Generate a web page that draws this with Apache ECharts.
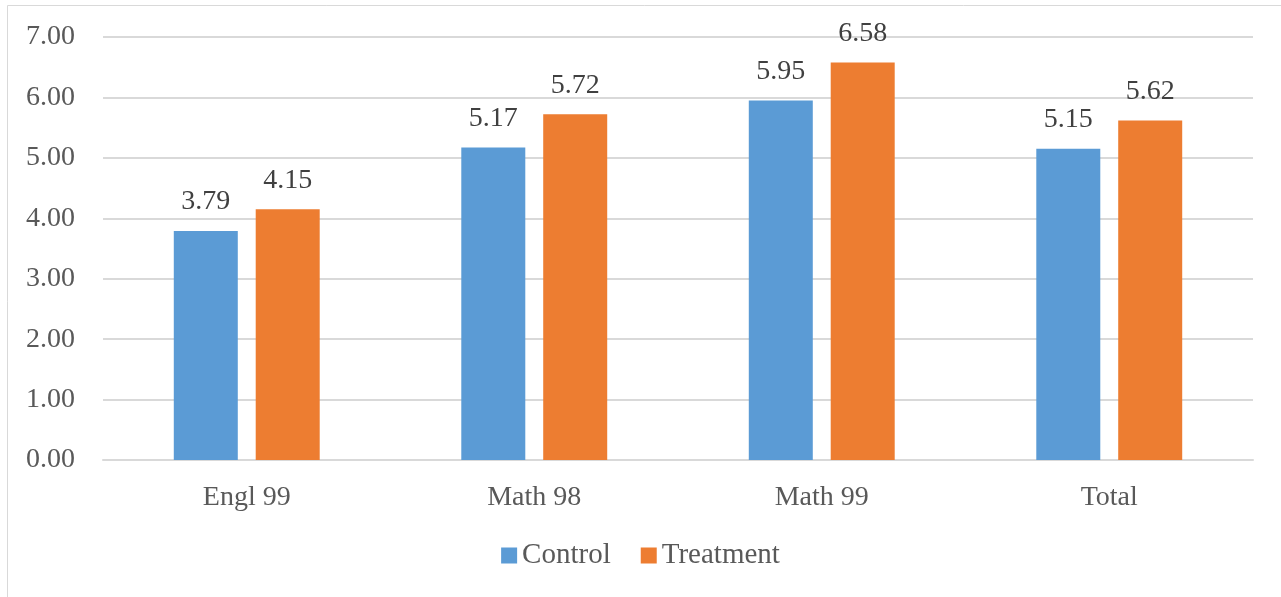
<!DOCTYPE html>
<html>
<head>
<meta charset="utf-8">
<script src="https://cdn.jsdelivr.net/npm/echarts@6/dist/echarts.min.js"></script>
<style>
  html, body { margin: 0; padding: 0; background: #fff; }
  #chart { width: 1281px; height: 597px; }
</style>
</head>
<body>
<div id="chart"></div>
<script>
// Mean scores by course, control vs treatment groups
const categories = ['Engl 99', 'Math 98', 'Math 99', 'Total'];
const controlValues = [3.79, 5.17, 5.95, 5.15];
const treatmentValues = [4.15, 5.72, 6.58, 5.62];
const seriesNames = ['Control', 'Treatment'];

const FONT = '"Liberation Serif", "DejaVu Serif", serif';

const chart = echarts.init(document.getElementById('chart'), null, { renderer: 'canvas' });

const labelStyle = {
  show: true,
  position: 'top',
  distance: 15,
  fontFamily: FONT,
  fontSize: 28,
  color: '#404040',
  formatter: p => p.value.toFixed(2)
};

chart.setOption({
  animation: false,
  backgroundColor: '#ffffff',
  graphic: [{
    type: 'rect',
    shape: { x: 7.5, y: 5.5, width: 1300, height: 620 },
    style: { fill: 'none', stroke: '#d9d9d9', lineWidth: 1 },
    silent: true
  }],
  grid: { left: 103, right: 28, top: 37, bottom: 137, containLabel: false },
  legend: {
    bottom: 22,
    left: 'center',
    itemWidth: 16,
    itemHeight: 16,
    itemGap: 30,
    icon: 'rect',
    textStyle: { fontFamily: FONT, fontSize: 29, color: '#595959' },
    data: seriesNames
  },
  xAxis: {
    type: 'category',
    data: categories,
    axisLine: { show: true, lineStyle: { color: '#d9d9d9', width: 2 } },
    axisTick: { show: false },
    axisLabel: { fontFamily: FONT, fontSize: 28, color: '#595959', margin: 24 }
  },
  yAxis: {
    type: 'value',
    min: 0,
    max: 7,
    interval: 1,
    axisLine: { show: false },
    axisTick: { show: false },
    splitLine: { lineStyle: { color: '#d9d9d9', width: 2 } },
    axisLabel: {
      fontFamily: FONT, fontSize: 28, color: '#595959', margin: 28,
      formatter: v => v.toFixed(2)
    }
  },
  series: [
    {
      name: seriesNames[0],
      type: 'bar',
      data: controlValues,
      barWidth: 64,
      barGap: '28%',
      itemStyle: { color: '#5b9bd5' },
      label: labelStyle
    },
    {
      name: seriesNames[1],
      type: 'bar',
      data: treatmentValues,
      barWidth: 64,
      barGap: '28%',
      itemStyle: { color: '#ed7d31' },
      label: labelStyle
    }
  ]
});
</script>
</body>
</html>
